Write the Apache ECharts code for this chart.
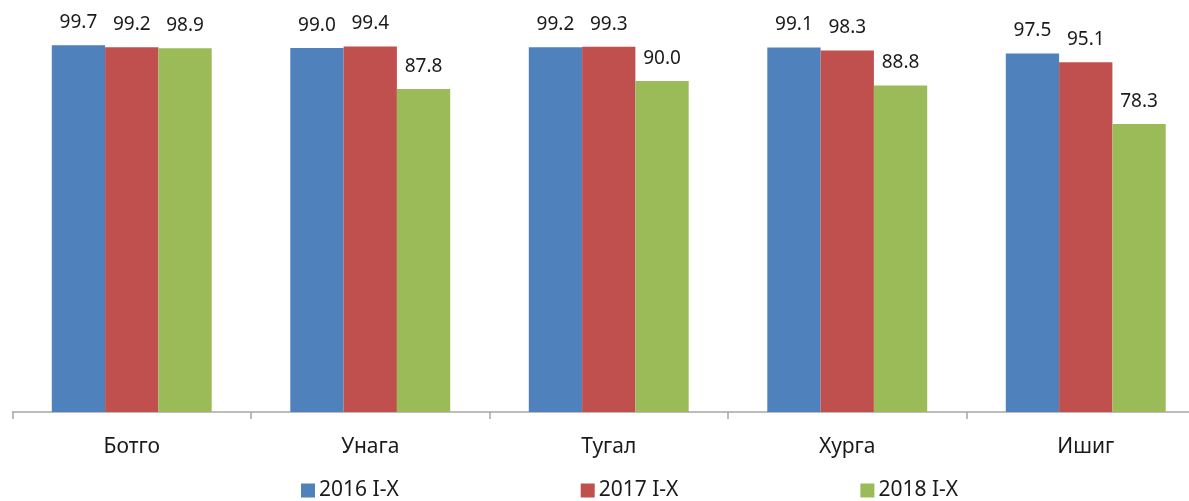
<!DOCTYPE html>
<html><head><meta charset="utf-8">
<script src="https://cdn.jsdelivr.net/npm/echarts@6/dist/echarts.min.js"></script>
<style>html,body{margin:0;padding:0;background:#fff}#c{width:1189px;height:501px}</style>
</head><body><div id="c"></div>
<script>
var categories = ['Ботго', 'Унага', 'Тугал', 'Хурга', 'Ишиг'];
var seriesNames = ['2016 I-X', '2017 I-X', '2018 I-X'];
var values2016 = [99.7, 99.0, 99.2, 99.1, 97.5];
var values2017 = [99.2, 99.4, 99.3, 98.3, 95.1];
var values2018 = [98.9, 87.8, 90.0, 88.8, 78.3];
var colors = ['#4f81bd', '#c0504d', '#9bbb59'];
var allValues = [values2016, values2017, values2018];
var font = 'Noto Sans';
var chart = echarts.init(document.getElementById('c'));
chart.setOption({
  animation: false,
  color: colors,
  textStyle: {fontFamily: font},
  grid: {left: 12.5, right: -16, top: 44.2, bottom: 89, containLabel: false, outerBoundsMode: 'none'},
  legend: {
    bottom: -5, left: 296,
    itemWidth: 14, itemHeight: 14, itemGap: 182,
    icon: 'rect',
    textStyle: {fontFamily: font, fontSize: 21, color: '#1a1a1a', padding: [0,0,0,-1]},
    data: seriesNames
  },
  xAxis: {
    type: 'category', data: categories,
    axisLine: {lineStyle: {color: '#a6a6a6', width: 1.5}},
    axisTick: {show: true, length: 7, interval: 0, lineStyle: {color: '#a6a6a6', width: 1.5}},
    axisLabel: {fontFamily: font, fontSize: 21, color: '#1a1a1a', margin: 25}
  },
  yAxis: {type: 'value', min: 0, max: 100, show: false, splitLine: {show: false}},
  series: allValues.map(function (v, i) {
    return {
      name: seriesNames[i], type: 'bar', data: v,
      barWidth: 53.3, barGap: '0%',
      label: {show: true, position: 'top', distance: 13, fontFamily: font, fontSize: 19, color: '#1a1a1a',
        formatter: function (p) { return p.value.toFixed(1); }}
    };
  })
});
</script></body></html>
